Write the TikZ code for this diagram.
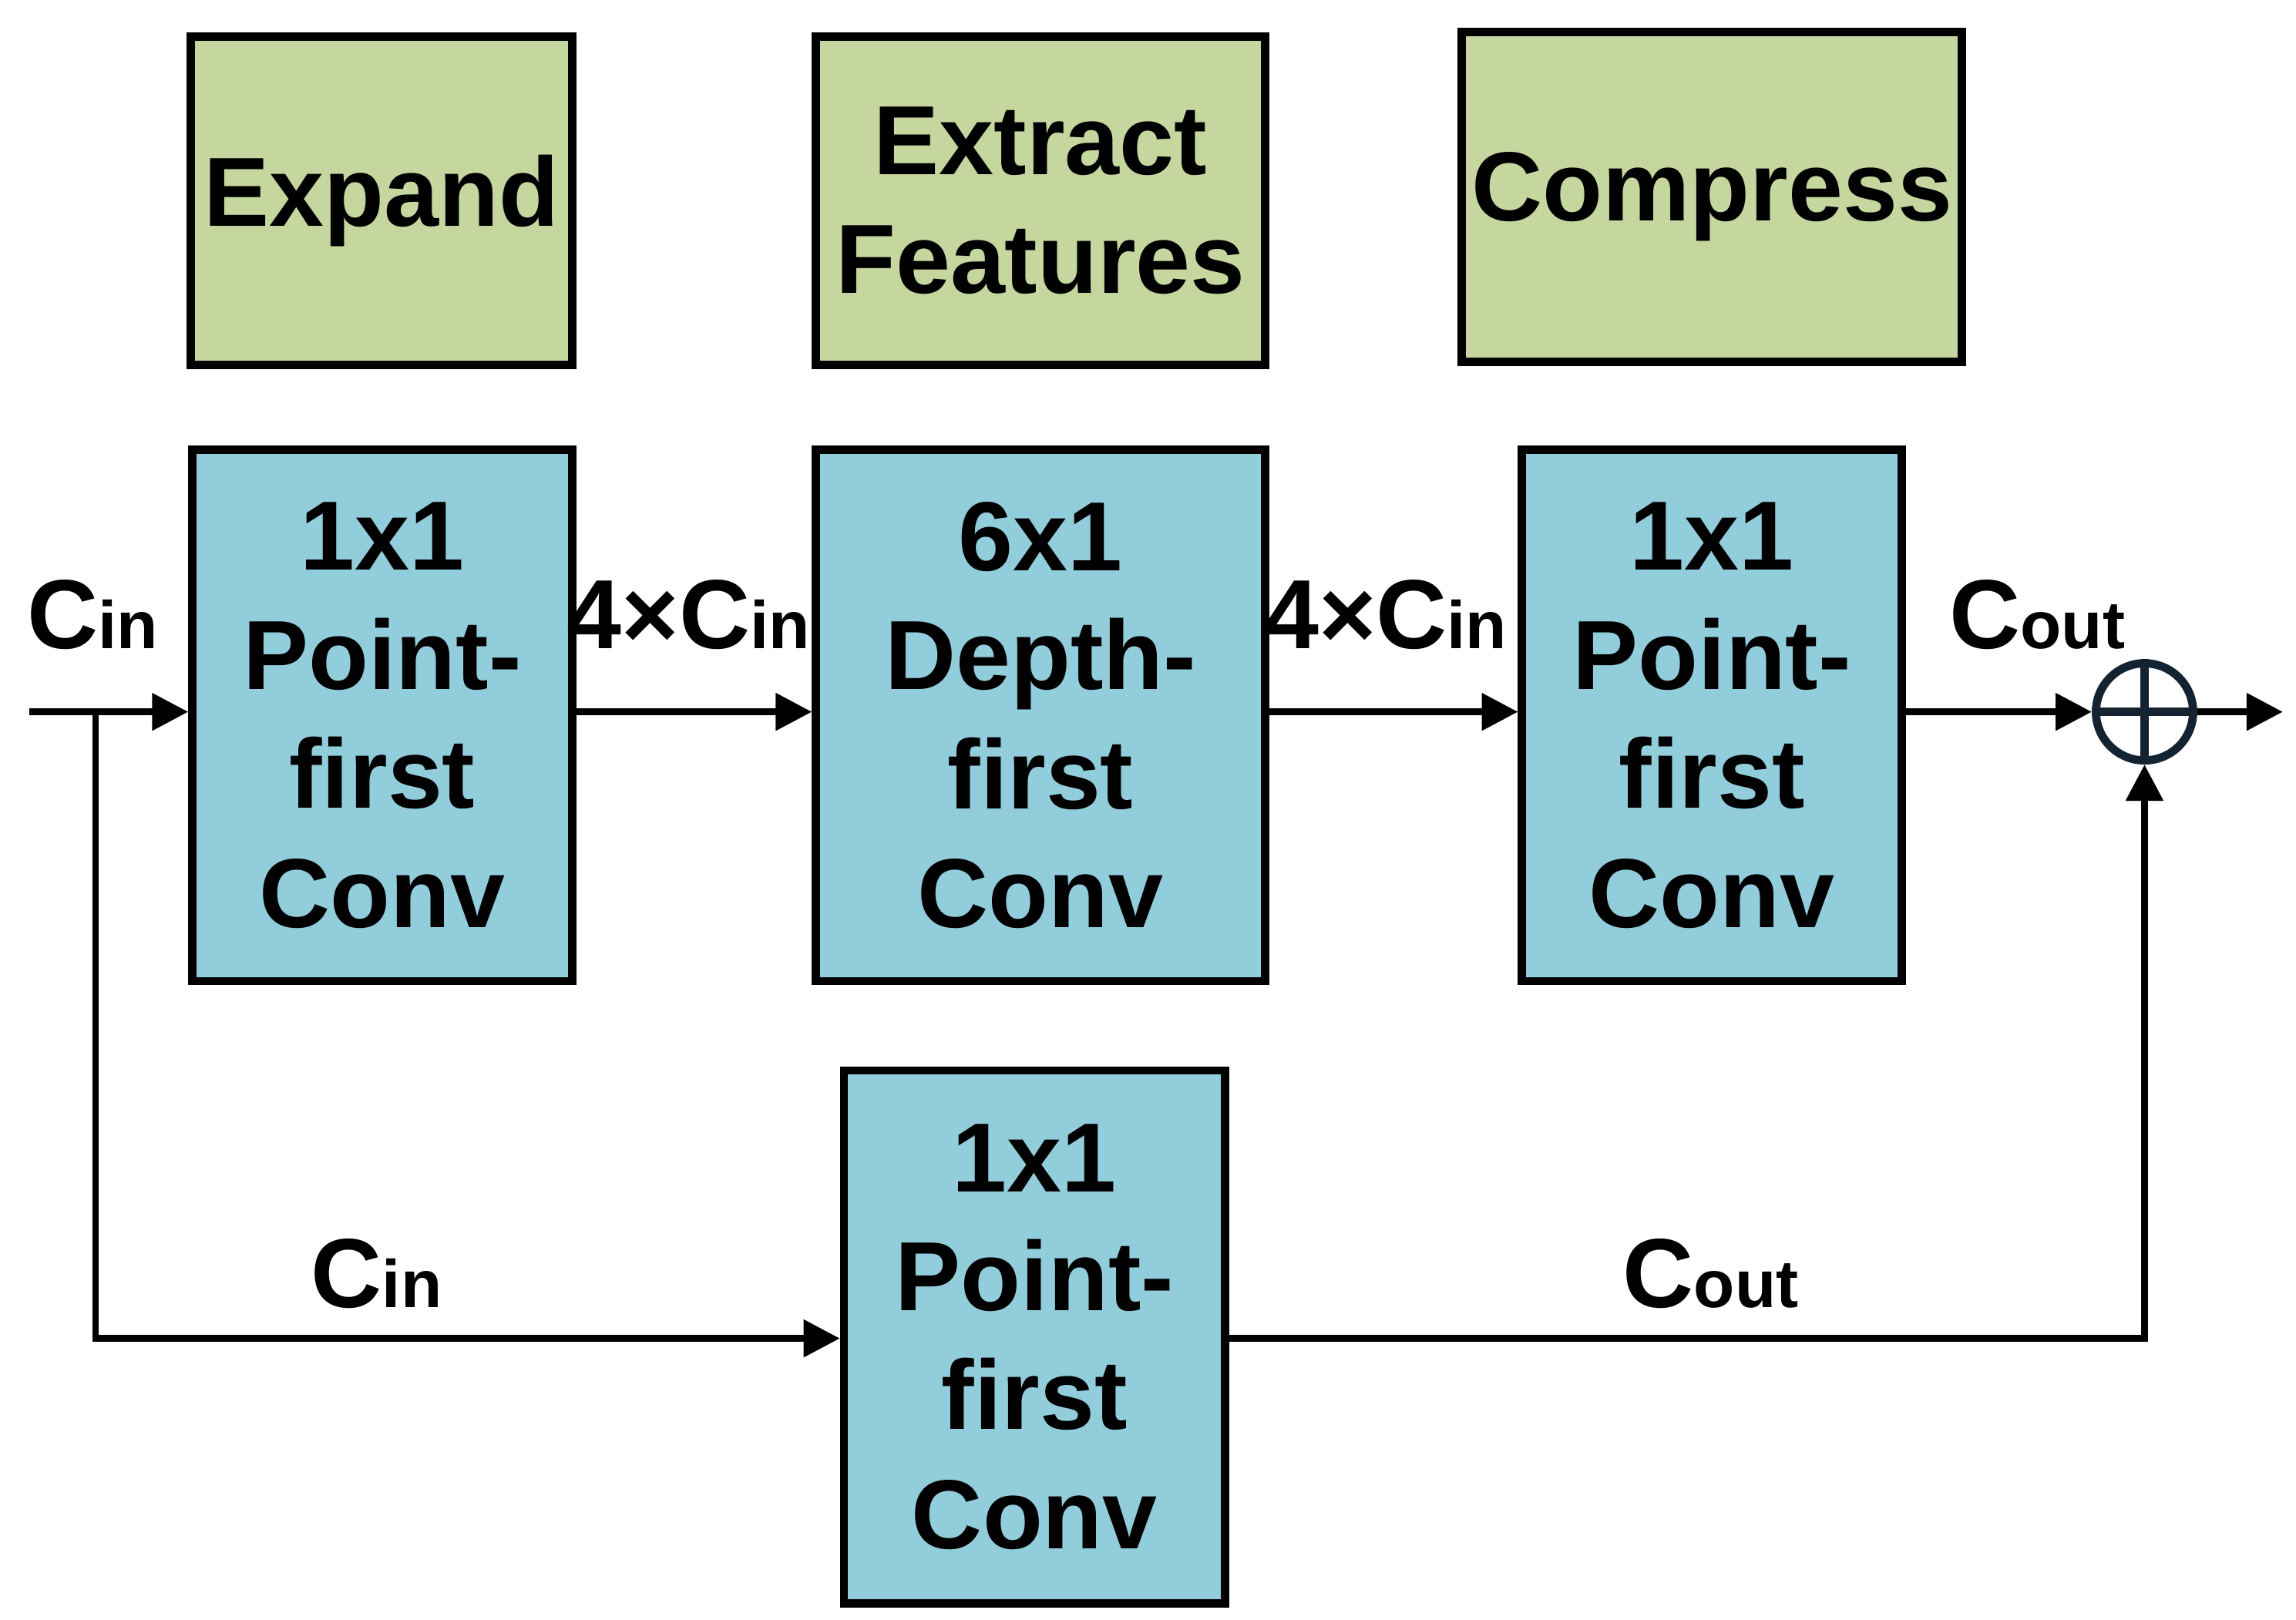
\documentclass[tikz,border=0pt]{standalone}
\usepackage{fontspec}
\setmainfont{Liberation Sans}
\usetikzlibrary{arrows.meta}
\begin{document}
\begin{tikzpicture}[x=0.01cm,y=-0.01cm,
 box/.style={draw,line width=1.6pt,anchor=north west,inner sep=0pt,align=center,font=\fontsize{19}{23}\selectfont\bfseries},
 grn/.style={box,fill={rgb,255:red,197;green,214;blue,159}},
 blu/.style={box,fill={rgb,255:red,146;green,205;blue,220}},
 ar/.style={line width=1.3pt,-{Triangle[length=7pt,width=7pt]}},
 lab/.style={font=\fontsize{19}{23}\selectfont\bfseries,inner sep=0pt}]
\newcommand{\sub}[1]{{\fontsize{13}{13}\selectfont #1}}
\useasboundingbox (0,0) rectangle (1561,1101);
\node[grn,minimum width=2.59cm,minimum height=2.23cm] (g1) at (127,22) {Expand};
\node[grn,minimum width=3.05cm,minimum height=2.23cm] (g2) at (552,22) {Extract\\Features};
\node[grn,minimum width=3.40cm,minimum height=2.24cm] (g3) at (991,19) {Compress};
\node[blu,minimum width=2.58cm,minimum height=3.61cm] (a) at (128,303) {1x1\\Point-\\first\\Conv};
\node[blu,minimum width=3.05cm,minimum height=3.61cm] (b) at (552,303) {6x1\\Depth-\\first\\Conv};
\node[blu,minimum width=2.58cm,minimum height=3.61cm] (c) at (1032,303) {1x1\\Point-\\first\\Conv};
\node[blu,minimum width=2.59cm,minimum height=3.62cm] (d) at (571,725) {1x1\\Point-\\first\\Conv};
\node[draw={rgb,255:red,20;green,35;blue,50},line width=1.6pt,circle,minimum size=0.66cm,inner sep=0pt] (p) at (1458,484) {};
\draw[line width=1.6pt,draw={rgb,255:red,20;green,35;blue,50}] (p.north)--(p.south) (p.west)--(p.east);
\coordinate (in) at (20,484);
\coordinate (sp) at (65,484);
\coordinate (s1) at (65,910);
\coordinate (s2) at (1458,910);
\coordinate (out) at (1552,484);
\draw[ar] (in) -- (a.west|-in);
\draw[ar] (a.east|-in) -- (b.west|-in);
\draw[ar] (b.east|-in) -- (c.west|-in);
\draw[ar] (c.east|-in) -- (p.west);
\draw[ar] (p.east) -- (out);
\draw[ar] (sp) -- (s1) -- (d.west|-s1);
\draw[ar] (d.east|-s1) -- (s2) -- (p.south);
\node[lab] (l1) at (63,418) {C\sub{in}};
\node[lab] (l2) at (468,418) {4×C\sub{in}};
\node[lab] (l3) at (942,418) {4×C\sub{in}};
\node[lab] (l4) at (1385,418) {C\sub{out}};
\node[lab] (l5) at (256,866) {C\sub{in}};
\node[lab] (l6) at (1163,866) {C\sub{out}};
\end{tikzpicture}
\end{document}
